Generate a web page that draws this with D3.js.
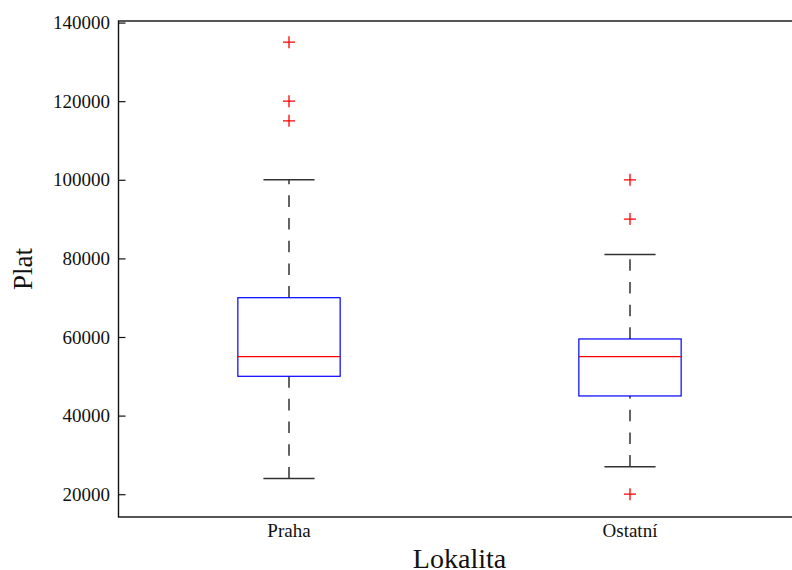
<!DOCTYPE html>
<html>
<head>
<meta charset="utf-8">
<script src="https://cdn.jsdelivr.net/npm/d3@7"></script>
<style>
  body { margin: 0; background: #fff; }
  text { font-family: "Liberation Serif", "DejaVu Serif", serif; fill: #111; }
</style>
</head>
<body>
<svg id="chart" width="792" height="570"></svg>
<script>
// data (Plat by Lokalita)
const categories = ["Praha", "Ostatní"];
const q1 = [50000, 45000];
const median = [55000, 55000];
const q3 = [70000, 59500];
const whiskerLo = [24000, 27000];
const whiskerHi = [100000, 81000];
const fliers = [
  [115000, 120000, 135000],
  [20000, 90000, 100000],
];
const yTicks = [20000, 40000, 60000, 80000, 100000, 120000, 140000];

const width = 792;
const height = 570;
const margin = { t: 21, l: 118.5, r: 800.5, b: 517 };

const svg = d3.select("#chart");

const x = d3.scaleBand().domain(categories).range([margin.l, margin.r]);
const y = d3.scaleLinear().domain([14200, 140400]).range([margin.b, margin.t]);

const boxes = categories.map((c, i) => ({
  name: c,
  q1: q1[i],
  med: median[i],
  q3: q3[i],
  lo: whiskerLo[i],
  hi: whiskerHi[i],
  out: fliers[i],
}));

const cx = (d) => x(d.name) + x.bandwidth() / 2;
const boxW = x.bandwidth() * 0.3;
const capW = boxW / 2;

// y axis, ticks pointing inward
const yAxis = svg
  .append("g")
  .attr("transform", `translate(${margin.l},0)`)
  .call(
    d3
      .axisLeft(y)
      .tickValues(yTicks)
      .tickFormat(d3.format("d"))
      .tickSizeInner(-7)
      .tickSizeOuter(0)
      .tickPadding(8.5)
  );
yAxis.select(".domain").remove();
yAxis.selectAll(".tick line").attr("stroke", "#111").attr("stroke-width", 1.2);
yAxis
  .selectAll(".tick text")
  .attr("font-family", "Liberation Serif")
  .attr("font-size", 19)
  .attr("fill", "#111");

// x category labels (no tick marks)
svg
  .append("g")
  .selectAll("text")
  .data(categories)
  .join("text")
  .attr("x", (d) => x(d) + x.bandwidth() / 2)
  .attr("y", 536.5)
  .attr("text-anchor", "middle")
  .attr("font-size", 19)
  .text((d) => d);

const g = svg.append("g");

const box = g.selectAll(".box").data(boxes).join("g").attr("class", "box");

// whiskers, drawn upward so the dash phase matches
box
  .append("line")
  .attr("x1", cx)
  .attr("x2", cx)
  .attr("y1", (d) => y(d.lo))
  .attr("y2", (d) => y(d.q1))
  .attr("stroke", "#111")
  .attr("stroke-width", 1.3)
  .attr("stroke-dasharray", "11.6,11.1");
box
  .append("line")
  .attr("x1", cx)
  .attr("x2", cx)
  .attr("y1", (d) => y(d.q3))
  .attr("y2", (d) => y(d.hi))
  .attr("stroke", "#111")
  .attr("stroke-width", 1.3)
  .attr("stroke-dasharray", "11.6,11.1");

// caps
["lo", "hi"].forEach((k) => {
  box
    .append("line")
    .attr("x1", (d) => cx(d) - capW / 2)
    .attr("x2", (d) => cx(d) + capW / 2)
    .attr("y1", (d) => y(d[k]))
    .attr("y2", (d) => y(d[k]))
    .attr("stroke", "#333")
    .attr("stroke-width", 1.5);
});

// box
box
  .append("rect")
  .attr("x", (d) => cx(d) - boxW / 2)
  .attr("width", boxW)
  .attr("y", (d) => y(d.q3))
  .attr("height", (d) => y(d.q1) - y(d.q3))
  .attr("fill", "none")
  .attr("stroke", "#0000ff")
  .attr("stroke-width", 1.2);

// median
box
  .append("line")
  .attr("x1", (d) => cx(d) - boxW / 2)
  .attr("x2", (d) => cx(d) + boxW / 2)
  .attr("y1", (d) => y(d.med))
  .attr("y2", (d) => y(d.med))
  .attr("stroke", "#ff0000")
  .attr("stroke-width", 1.2);

// fliers as red "+"
const s = 6;
box
  .selectAll(".flier")
  .data((d) => d.out.map((v) => ({ x: cx(d), v })))
  .join("path")
  .attr("class", "flier")
  .attr("d", (d) => {
    const px = d.x;
    const py = y(d.v);
    return `M${px - s},${py}H${px + s}M${px},${py - s}V${py + s}`;
  })
  .attr("stroke", "#ff0000")
  .attr("stroke-width", 1.3)
  .attr("fill", "none");

// frame
svg
  .append("rect")
  .attr("x", margin.l)
  .attr("y", margin.t)
  .attr("width", margin.r - margin.l)
  .attr("height", margin.b - margin.t)
  .attr("fill", "none")
  .attr("stroke", "#111")
  .attr("stroke-width", 1.4);

// axis titles
svg
  .append("text")
  .attr("x", (margin.l + margin.r) / 2)
  .attr("y", 568)
  .attr("text-anchor", "middle")
  .attr("font-size", 28)
  .text("Lokalita");

svg
  .append("text")
  .attr("transform", `translate(31.5, ${(margin.t + margin.b) / 2}) rotate(-90)`)
  .attr("text-anchor", "middle")
  .attr("font-size", 27)
  .text("Plat");
</script>
</body>
</html>
